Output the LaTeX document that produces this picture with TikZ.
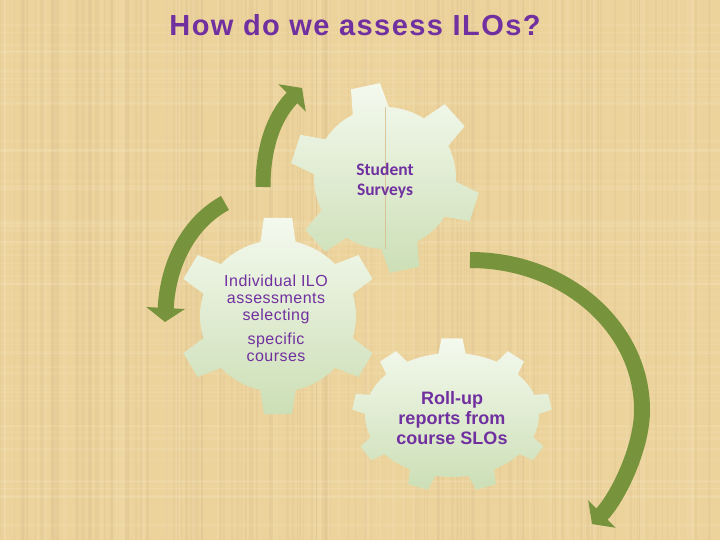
\documentclass[tikz,border=0pt]{standalone}
\usepackage{fontspec}
\setmainfont{Liberation Sans}
\newfontfamily\calibrifont{Carlito}
\newfontfamily\titlefont[LetterSpace=5]{Liberation Sans}
\newfontfamily\spacedfont[LetterSpace=3]{Liberation Sans}
\usetikzlibrary{arrows.meta}
\definecolor{bg}{RGB}{236,211,156}
\definecolor{bgline}{RGB}{214,188,140}
\definecolor{bglight}{RGB}{246,228,186}
\definecolor{purp}{RGB}{112,48,160}
\definecolor{grn}{RGB}{119,147,60}
\definecolor{gtop}{RGB}{244,249,238}
\definecolor{gbot}{RGB}{204,223,182}
% gear outline: parameters set with \def before use
\newcommand{\gearshape}{%
  \path[gearfill] ({\grx*cos(\ga-\gbh)},{\gry*sin(\ga-\gbh)})
    \foreach \i [evaluate=\i as \angS using \ga+(\i-1)*360/\gn,
                 evaluate=\i as \angE using \ga+\i*360/\gn] in {1,...,\gn} {
      -- ({\gRx*cos(\angS-\gth)},{\gRy*sin(\angS-\gth)})
      -- ({\gRx*cos(\angS+\gth)},{\gRy*sin(\angS+\gth)})
      -- ({\grx*cos(\angS+\gbh)},{\gry*sin(\angS+\gbh)})
      arc[start angle=\angS+\gbh, end angle=\angE-\gbh, x radius=\grx, y radius=\gry]
    } -- cycle;}
\begin{document}
\begin{tikzpicture}[x=1pt,y=-1pt,
  gearfill/.style={top color=gtop, bottom color=gbot, draw=none},
  garrow/.style={draw=grn, line width=15pt, -{Triangle[length=14pt,width=38pt]}},
  gtext/.style={text=purp, align=center, inner sep=0pt}]
\useasboundingbox (0,0) rectangle (720,540);
\fill[bg] (0,0) rectangle (720,540);
% woven background texture
\pgfmathsetseed{7}
\foreach \k in {1,...,140} {
  \pgfmathsetmacro\xx{rnd*720}
  \pgfmathsetmacro\ww{0.6+rnd*2.2}
  \draw[bgline, line width=\ww pt, opacity=0.22] (\xx,0) -- (\xx,540);
}
\foreach \k in {1,...,90} {
  \pgfmathsetmacro\yy{rnd*540}
  \pgfmathsetmacro\ww{0.6+rnd*2}
  \draw[bglight, line width=\ww pt, opacity=0.18] (0,\yy) -- (720,\yy);
}
\foreach \k in {1,...,60} {
  \pgfmathsetmacro\xx{rnd*720}
  \pgfmathsetmacro\ww{1+rnd*3}
  \draw[bglight, line width=\ww pt, opacity=0.2] (\xx,0) -- (\xx,540);
}

% Student Surveys gear
\begin{scope}[shift={(385,178)}]
  \def\gn{6}\def\ga{-102}\def\gRx{95}\def\gRy{95}\def\grx{71}\def\gry{71}\def\gth{9}\def\gbh{15}
  \gearshape
  \draw[bgline, line width=0.9pt, opacity=0.8] (0,-71) -- (0,71);
\end{scope}

% Individual ILO gear
\begin{scope}[shift={(278,316)}]
  \def\gn{6}\def\ga{-90}\def\gRx{102}\def\gRy{99}\def\grx{78}\def\gry{76}\def\gth{8}\def\gbh{13}
  \gearshape
\end{scope}

% Roll-up gear
\begin{scope}[shift={(452,415)}]
  \def\gn{9}\def\ga{-90}\def\gRx{100}\def\gRy{77}\def\grx{87}\def\gry{62}\def\gth{6}\def\gbh{9}
  \gearshape
\end{scope}

% texts
\node[gtext, font=\bfseries\titlefont\fontsize{29}{32}\selectfont, anchor=base] (title) at (355,36) {How do we assess ILOs?};
\node[gtext, font=\calibrifont\bfseries\fontsize{17.5}{20}\selectfont] (surveys) at (385,181) {Student\\Surveys};
\node[gtext, font=\spacedfont\fontsize{16}{17}\selectfont] (individual) at (276,318) {Individual ILO\\assessments\\selecting\\[7pt]specific\\courses};
\node[gtext, font=\bfseries\fontsize{18}{20}\selectfont] (rollup) at (452,418) {Roll-up\\reports from\\course SLOs};

% arrows
\coordinate (a1s) at (263,187);
\coordinate (a1e) at (302,88);
\draw[garrow] (a1s) .. controls (263,140) and (278,112) .. (a1e);

\coordinate (a2s) at (225,203);
\coordinate (a2e) at (165,322);
\draw[garrow, line width=16pt] (a2s) .. controls (190,222) and (168,262) .. (a2e);

\coordinate (a3s) at (470,260);
\coordinate (a3m) at (642,410);
\coordinate (a3e) at (592,524);
\draw[garrow, line width=16pt] (a3s) .. controls (565,260) and (642,327) .. (a3m)
  .. controls (642,450) and (616,500) .. (a3e);
\end{tikzpicture}
\end{document}
